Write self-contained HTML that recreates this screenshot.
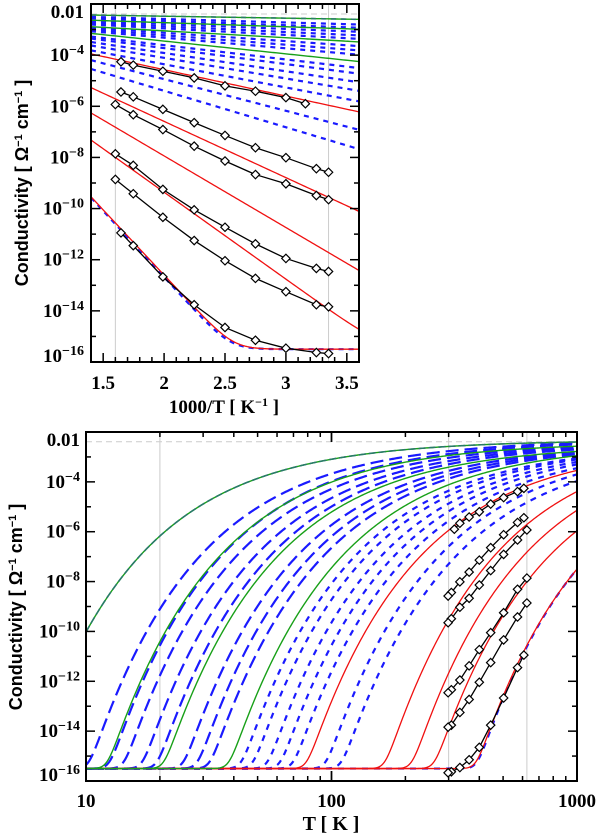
<!DOCTYPE html>
<html><head><meta charset="utf-8">
<style>
html,body{margin:0;padding:0;background:#fff;}
svg{display:block;}
text{font-family:"Liberation Serif",serif;font-weight:bold;fill:#000;}
.ax{font-family:"Liberation Sans",sans-serif;font-weight:bold;}
</style></head>
<body>
<svg id="chart" width="600" height="837" viewBox="0 0 600 837" xmlns="http://www.w3.org/2000/svg"></svg>
<script>
// ---- data ----
const floorLog = -15.5;
const redEnd = [-3.54, -4.39, -5.14, -5.96, -7.5];      // log10 sigma at 1000 K
const redSlope = [1.03, 2.2, 2.8, 3.4, 5.1];             // decades per (1000/T)
const greenEnd = [-2.4, -2.57, -2.78, -2.95];
const greenSlope = [0.077, 0.16, 0.27, 0.5];
const blueOnset = [10.3, 12.5, 14.3, 17, 19.5, 25, 28.5, 32, 43, 48, 55, 62, 70, 95, 110, 393];
const blueEnd = [-2.45, -2.5, -2.6, -2.65, -2.7, -2.8, -2.85, -2.9, -3.05, -3.1, -3.2, -3.3, -3.45, -3.7, -3.97, -7.5];
const blueLong = [1,1,1,1,1,1,1,1,0,0,0,0,0,0,0,0];
const seriesX = [
 [1.646,1.747,1.99,2.247,2.5,2.75,3.0,3.16],
 [1.646,1.747,1.99,2.247,2.5,2.75,3.0,3.25,3.35],
 [1.60,1.747,1.99,2.247,2.5,2.75,3.0,3.25,3.35],
 [1.60,1.747,1.99,2.247,2.5,2.75,3.0,3.25,3.35],
 [1.60,1.747,1.99,2.247,2.5,2.75,3.0,3.25,3.35],
 [1.646,1.747,1.99,2.247,2.5,2.75,3.0,3.25,3.35]];
const seriesY = [
 [-4.26,-4.39,-4.63,-4.89,-5.2,-5.41,-5.66,-5.9],
 [-5.44,-5.63,-6.12,-6.64,-7.14,-7.62,-8.01,-8.44,-8.58],
 [-5.93,-6.33,-6.91,-7.56,-8.14,-8.67,-9.03,-9.49,-9.65],
 [-7.86,-8.31,-9.25,-10.05,-10.73,-11.38,-11.95,-12.34,-12.46],
 [-8.86,-9.42,-10.34,-11.25,-12.04,-12.73,-13.25,-13.76,-13.84],
 [-10.95,-11.45,-12.67,-13.76,-14.65,-15.15,-15.46,-15.63,-15.67]];
const yTickLabels = ['0.01','-4','-6','-8','-10','-12','-14','-16'];
const topXTicks = [1.5,2,2.5,3,3.5];
const botXTicks = [10,100,1000];
const refLineLog = -2.39;
const topVLines = [1.6, 3.35];
const botVLines = [20, 300, 625];

// ---- setup ----
const NS='http://www.w3.org/2000/svg';
const svg=document.getElementById('chart');
function mk(tag,attrs,parent){const e=document.createElementNS(NS,tag);for(const k in attrs)e.setAttribute(k,attrs[k]);(parent||svg).appendChild(e);return e;}

const P1={x0:91,x1:359,y0:4,y1:362,xmin:1.4,xmax:3.6};
const P2={x0:86,x1:577,y0:432,y1:781,xmin:1,xmax:3};
function yOf(P,l){return P.y0+(-2-l)/14*(P.y1-P.y0);}
function x1Of(v){return P1.x0+(v-P1.xmin)/(P1.xmax-P1.xmin)*(P1.x1-P1.x0);}
function x2Of(T){return P2.x0+(Math.log10(T)-1)/2*(P2.x1-P2.x0);}
function model(end,slope,inv){const a=end+slope;const v=a-slope*inv;return Math.log10(Math.pow(10,v)+Math.pow(10,floorLog));}

const defs=mk('defs',{});
const c1=mk('clipPath',{id:'c1'},defs);mk('rect',{x:P1.x0,y:P1.y0,width:P1.x1-P1.x0,height:P1.y1-P1.y0},c1);
const c2=mk('clipPath',{id:'c2'},defs);mk('rect',{x:P2.x0,y:P2.y0,width:P2.x1-P2.x0,height:P2.y1-P2.y0},c2);
const g1=mk('g',{'clip-path':'url(#c1)'});


const g2=mk('g',{'clip-path':'url(#c2)'});



// reference lines
let e;
e=mk('line',{x1:P1.x0,x2:P1.x1,y1:yOf(P1,refLineLog),y2:yOf(P1,refLineLog),stroke:'#ccc','stroke-dasharray':'6 4','stroke-width':1},g1);


e=mk('line',{x1:P2.x0,x2:P2.x1,y1:yOf(P2,refLineLog),y2:yOf(P2,refLineLog),stroke:'#ccc','stroke-dasharray':'6 4','stroke-width':1},g2);


topVLines.forEach(v=>{const l=mk('line',{x1:x1Of(v),x2:x1Of(v),y1:P1.y0,y2:P1.y1,stroke:'#ccc','stroke-width':1},g1);

});
botVLines.forEach(v=>{const l=mk('line',{x1:x2Of(v),x2:x2Of(v),y1:P2.y0,y2:P2.y1,stroke:'#ccc','stroke-width':1},g2);

});

function curve(end,slope,color,width,dash,name){
  let d='';
  for(let i=0;i<=120;i++){const inv=P1.xmin+(P1.xmax-P1.xmin)*i/120;d+=(i?'L':'M')+x1Of(inv).toFixed(2)+','+yOf(P1,model(end,slope,inv)).toFixed(2);}
  const p=mk('path',{d:d,fill:'none',stroke:color,'stroke-width':width,'stroke-dasharray':dash?'5 5':'none'},g1);
  
  
  let d2='';
  for(let i=0;i<=400;i++){const lt=1+2*i/400;const T=Math.pow(10,lt);d2+=(i?'L':'M')+x2Of(T).toFixed(2)+','+yOf(P2,model(end,slope,1000/T)).toFixed(2);}
  const q=mk('path',{d:d2,fill:'none',stroke:color,'stroke-width':width,'stroke-dasharray':dash||'none'},g2);
  
  
}
blueOnset.forEach((T0,i)=>{const slope=(blueEnd[i]-floorLog)/(1000/T0-1);
  curve(blueEnd[i],slope,'#1a1aff',2.2,blueLong[i]?'13 6':'6 6','blue-model-curve');});
redEnd.forEach((v,i)=>curve(v,redSlope[i],'#f01010',1.3,null,'red-model-curve'));
greenEnd.forEach((v,i)=>curve(v,greenSlope[i],'#18a018',1.4,null,'green-model-curve'));
curve(greenEnd[0],greenSlope[0],'#2a7a6a',1.6,'7 3','teal-overlay-curve');

function diamond(g,x,y){const s=4.2;const p=mk('path',{d:`M${x},${y-s}L${x+s},${y}L${x},${y+s}L${x-s},${y}Z`,fill:'#fff',stroke:'#000','stroke-width':1.2},g);

}
seriesX.forEach((xs,k)=>{
  const ys=seriesY[k];
  let d='',d2='';
  xs.forEach((v,i)=>{d+=(i?'L':'M')+x1Of(v)+','+yOf(P1,ys[i]);d2+=(i?'L':'M')+x2Of(1000/v)+','+yOf(P2,ys[i]);});
  const l1=mk('path',{d:d,fill:'none',stroke:'#000','stroke-width':1.3},g1);
  
  
  const l2=mk('path',{d:d2,fill:'none',stroke:'#000','stroke-width':1.3},g2);
  
  
  xs.forEach((v,i)=>{diamond(g1,x1Of(v),yOf(P1,ys[i]));diamond(g2,x2Of(1000/v),yOf(P2,ys[i]));});
});

function frame(P,name){const r=mk('rect',{x:P.x0,y:P.y0,width:P.x1-P.x0,height:P.y1-P.y0,fill:'none',stroke:'#000','stroke-width':2});

}
frame(P1,'top-plot-frame');frame(P2,'bottom-plot-frame');
function tick(x1,y1,x2,y2){const t=mk('line',{x1,y1,x2,y2,stroke:'#000','stroke-width':1.5});

}
[P1,P2].forEach(P=>{
  for(let l=-2;l>=-16;l--){const y=yOf(P,l);const len=(l%2===0)?9:5;
    tick(P.x0,y,P.x0+len,y);tick(P.x1,y,P.x1-len,y);}
});
for(let v=1.4;v<=3.601;v+=0.1){const x=x1Of(v);const maj=Math.abs(v*2-Math.round(v*2))<1e-6;const len=maj?9:5;
  tick(x,P1.y1,x,P1.y1-len);tick(x,P1.y0,x,P1.y0+len);}
[10,100].forEach(b=>{for(let m=1;m<=10;m++){const T=b*m;const x=x2Of(T);const len=(m===1||m===10)?10:5;
  tick(x,P2.y1,x,P2.y1-len);tick(x,P2.y0,x,P2.y0+len);}});

function txt(x,y,s,anchor,size,name,cls){const t=mk('text',{x,y,'text-anchor':anchor,'font-size':size});if(cls)t.setAttribute('class',cls);t.innerHTML=s;

return t;}
[P1,P2].forEach((P,pi)=>{
  const right=pi?80:84;
  yTickLabels.forEach((s,i)=>{const l=-2-2*i;let y=yOf(P,l)+6;if(i===0)y+=8;if(i===yTickLabels.length-1)y-=6;
    if(i===0)txt(right,y,'0.01','end',19,'y-tick-label');
    else txt(right,y,'10<tspan dy="-7" font-size="14">&#8722;'+s.slice(1)+'</tspan>','end',19,'y-tick-label');});
});
topXTicks.forEach(v=>txt(x1Of(v),389,String(v),'middle',19,'x-tick-label'));
botXTicks.forEach(v=>txt(x2Of(v),807,String(v),'middle',19,'x-tick-label'));
txt(224,413,'1000/T [ K<tspan dy="-7" font-size="12">&#8722;1</tspan><tspan dy="7"> ]</tspan>','middle',19,'top-x-axis-title');
txt(331,830,'T [ K ]','middle',20,'bottom-x-axis-title');
const yt1=txt(0,0,'Conductivity  [ &#937;<tspan dy="-6" font-size="11">&#8722;1</tspan><tspan dy="6"> cm</tspan><tspan dy="-6" font-size="11">&#8722;1</tspan><tspan dy="6"> ]</tspan>','middle',18,'top-y-axis-title','ax');
yt1.setAttribute('transform','translate(28,183) rotate(-90)');
const yt2=txt(0,0,'Conductivity  [ &#937;<tspan dy="-6" font-size="11">&#8722;1</tspan><tspan dy="6"> cm</tspan><tspan dy="-6" font-size="11">&#8722;1</tspan><tspan dy="6"> ]</tspan>','middle',18,'bottom-y-axis-title','ax');
yt2.setAttribute('transform','translate(22,607) rotate(-90)');
</script>
</body></html>
